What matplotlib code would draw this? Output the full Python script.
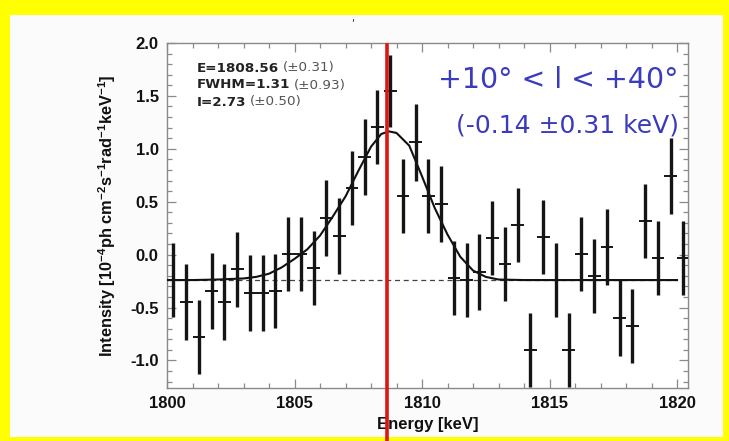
import matplotlib
matplotlib.use("Agg")
import matplotlib.pyplot as plt
from matplotlib.patches import Rectangle
from matplotlib.ticker import MultipleLocator, FormatStrFormatter

# ---------------- data ----------------
energy = [1800.25, 1800.75, 1801.25, 1801.75, 1802.25, 1802.75, 1803.25, 1803.75,
          1804.25, 1804.75, 1805.25, 1805.75, 1806.25, 1806.75, 1807.25, 1807.75,
          1808.25, 1808.75, 1809.25, 1809.75, 1810.25, 1810.75, 1811.25, 1811.75,
          1812.25, 1812.75, 1813.25, 1813.75, 1814.25, 1814.75, 1815.25, 1815.75,
          1816.25, 1816.75, 1817.25, 1817.75, 1818.25, 1818.75, 1819.25, 1819.75,
          1820.25]
intensity = [-0.24, -0.45, -0.78, -0.34, -0.45, -0.14, -0.36, -0.36,
             -0.34, 0.01, 0.01, -0.13, 0.35, 0.18, 0.63, 0.92,
             1.21, 1.55, 0.55, 1.06, 0.55, 0.48, -0.22, -0.24,
             -0.165, 0.16, -0.09, 0.28, -0.90, 0.17, -0.24, -0.90,
             0.01, -0.20, 0.07, -0.60, -0.67, 0.32, -0.03, 0.745,
             -0.03]
intensity_err = [0.35, 0.36, 0.35, 0.36, 0.36, 0.35, 0.36, 0.36,
                 0.35, 0.35, 0.35, 0.35, 0.36, 0.36, 0.35, 0.36,
                 0.35, 0.34, 0.35, 0.36, 0.35, 0.36, 0.35, 0.35,
                 0.36, 0.35, 0.35, 0.35, 0.35, 0.35, 0.35, 0.35,
                 0.35, 0.35, 0.36, 0.36, 0.35, 0.35, 0.35, 0.36,
                 0.35]
bin_halfwidth = 0.25

fit_energy = [1800.0, 1801.0, 1802.0, 1803.0, 1803.5, 1804.0, 1804.5, 1805.0,
              1805.5, 1806.0, 1806.5, 1807.0, 1807.5, 1808.0, 1808.4, 1808.7,
              1809.0, 1809.5, 1810.0, 1810.5, 1811.0, 1811.5, 1812.0, 1812.5,
              1813.0, 1814.0, 1820.0]
fit_intensity = [-0.24, -0.24, -0.235, -0.225, -0.21, -0.18, -0.12, -0.04,
                 0.05, 0.18, 0.36, 0.55, 0.79, 1.02, 1.14, 1.165,
                 1.15, 1.03, 0.74, 0.44, 0.19, -0.02, -0.15, -0.21,
                 -0.235, -0.24, -0.24]
baseline = -0.24
baseline_range = [1800.0, 1820.0]
line_energy = 1808.63

xticks = [1800, 1805, 1810, 1815, 1820]
yticks = [-1.0, -0.5, 0.0, 0.5, 1.0, 1.5, 2.0]

fit_labels = [("E=1808.56", "(\u00b10.31)"),
              ("FWHM=1.31", "(\u00b10.93)"),
              ("I=2.73", "(\u00b10.50)")]
title1 = "+10\u00b0 < l < +40\u00b0"
title2 = "(-0.14 \u00b10.31 keV)"

# ---------------- figure ----------------
W, H = 729, 441
plt.rcParams['axes.unicode_minus'] = False
plt.rcParams['mathtext.fontset'] = 'custom'
plt.rcParams['mathtext.rm'] = 'Liberation Sans:bold'
plt.rcParams['mathtext.default'] = 'rm'

fig = plt.figure(figsize=(W / 100, H / 100), dpi=100, facecolor='#ffff00')

def fx(px):
    return px / W

def fy(py):
    return 1 - py / H

# inner light panel
fig.patches.append(Rectangle((fx(10), fy(437)), fx(723) - fx(10), fy(15) - fy(437),
                             transform=fig.transFigure, facecolor='#fbfbfb',
                             edgecolor='none', zorder=-10))

ax = fig.add_axes([fx(167), fy(388), fx(688) - fx(167), fy(43) - fy(388)])
ax.set_facecolor('white')
ax.set_xlim(1800, 1820.43)
ax.set_ylim(-1.26, 2.0)

ax.plot(baseline_range, [baseline, baseline], color='#444444', lw=0.9,
        ls=(0, (4, 3)), zorder=2)
ax.plot(fit_energy, fit_intensity, color='#111111', lw=1.5, zorder=3)
ax.errorbar(energy, intensity, yerr=intensity_err, fmt='none', ecolor='#151515',
            elinewidth=2.4, capsize=0, zorder=4)
ax.errorbar(energy, intensity, xerr=bin_halfwidth, fmt='none', ecolor='#151515',
            elinewidth=1.4, capsize=0, zorder=4)

ax.axvline(line_energy, ymin=-0.155, ymax=0.994, clip_on=False,
           color='#dd1515', lw=2.6, zorder=10)

ax.set_xticks(xticks)
ax.set_yticks(yticks)
ax.xaxis.set_minor_locator(MultipleLocator(1))
ax.yaxis.set_minor_locator(MultipleLocator(0.1))
ax.yaxis.set_major_formatter(FormatStrFormatter('%.1f'))
ax.tick_params(which='both', direction='in', top=True, right=True,
               color='#8a8a8a', width=0.9)
ax.tick_params(which='major', length=6.5, labelsize=12, pad=6)
ax.tick_params(which='minor', length=3.5)
for lab in ax.get_xticklabels() + ax.get_yticklabels():
    lab.set_family('Liberation Sans')
    lab.set_fontweight('bold')
    lab.set_color('#111111')
for s in ax.spines.values():
    s.set_color('#8a8a8a')
    s.set_linewidth(1.0)

ax.set_xlabel('Energy [keV]', family='Liberation Sans', fontweight='bold',
              fontsize=12, color='#111111', labelpad=4)
ax.set_ylabel(r'Intensity [10$^{-4}$ph cm$^{-2}$s$^{-1}$rad$^{-1}$keV$^{-1}$]',
              family='Liberation Sans', fontweight='bold', fontsize=11.8,
              color='#111111', labelpad=9)

# fit parameter annotations
ys = [68, 85, 102]
for (bold_part, err_part), py in zip(fit_labels, ys):
    t = fig.text(fx(197), fy(py), bold_part, family='DejaVu Sans', fontweight='bold',
                 fontsize=9.7, color='#222222', ha='left', va='center')
    ax.annotate(err_part, xy=(1, 0.5), xycoords=t, xytext=(2.5, 0),
                textcoords='offset points', family='DejaVu Sans', fontsize=9.7,
                color='#555555', ha='left', va='center', annotation_clip=False)

fig.text(fx(679), fy(80), title1, family='DejaVu Sans', fontsize=20.5,
         color='#3b3bbd', ha='right', va='center')
fig.text(fx(679), fy(125), title2, family='DejaVu Sans', fontsize=18,
         color='#3b3bbd', ha='right', va='center')

fig.text(fx(353), fy(18), ',', fontsize=7, color='#222222', ha='center', va='center')

fig.savefig('out.png', dpi=100, facecolor=fig.get_facecolor())
